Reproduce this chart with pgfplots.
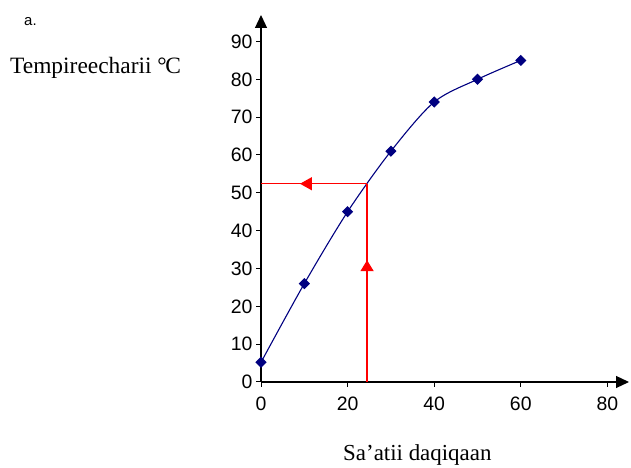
\documentclass[border=0pt]{standalone}
\usepackage{fontspec}
\setmainfont{Liberation Serif}
\newfontfamily\arialf{Liberation Sans}
\usepackage{pgfplots}
\pgfplotsset{compat=1.18}
\usetikzlibrary{arrows.meta}
\definecolor{navy}{HTML}{000080}
\definecolor{pureRed}{HTML}{FF0000}
\begin{document}
\begin{tikzpicture}[x=1bp,y=1bp]
\useasboundingbox (0,0) rectangle (631,468);
\begin{axis}[
  at={(261bp,86bp)}, anchor=south west,
  scale only axis, width=368bp, height=367bp,
  xmin=0, xmax=85, ymin=0, ymax=97,
  axis lines=left,
  axis line style={line width=1.2bp, -{Triangle[width=12bp,length=13bp]}},
  xtick={0,20,...,80}, ytick={0,10,...,90},
  tick style={black, line width=1bp},
  tick align=outside, major tick length=5bp,
  tick label style={font=\arialf\fontsize{19.5}{20}\selectfont},
  xticklabel style={yshift=-6bp},
  /pgf/number format/assume math mode=true,
  clip=false]
\addplot[navy, line width=1.1bp, smooth, mark=square*, mark size=3.4bp,
  mark options={rotate=45, fill=navy, draw=navy}]
  coordinates {(0,5.2) (10,26) (20,45) (30,61) (40,74) (50,80) (60,85)};
\addplot[color=pureRed, line width=1.5bp, no marks] coordinates {(24.5,0) (24.5,52.4)};
\addplot[color=pureRed, line width=1.5bp, no marks] coordinates {(24.5,52.4) (0,52.4)};
\addplot[color=pureRed, fill=pureRed, line width=1.5bp, no marks, -{Triangle[width=13bp,length=12bp]}]
  coordinates {(24.5,52.4) (9.0,52.4)};
\addplot[color=pureRed, fill=pureRed, line width=1.5bp, no marks, -{Triangle[width=13bp,length=11bp]}]
  coordinates {(24.5,0) (24.5,32.2)};
\end{axis}
\node[anchor=base west, inner sep=0pt, font=\arialf\fontsize{15}{15}\selectfont] at (24,442) {a.};
\node[anchor=base west, inner sep=0pt, font=\fontsize{23.5}{24}\selectfont] at (10,394.7) {Tempireecharii °\kern-0.06em C};
\node[anchor=base west, inner sep=0pt, font=\fontsize{23}{24}\selectfont] at (343,7) {Sa’atii daqiqaan};
\end{tikzpicture}
\end{document}
